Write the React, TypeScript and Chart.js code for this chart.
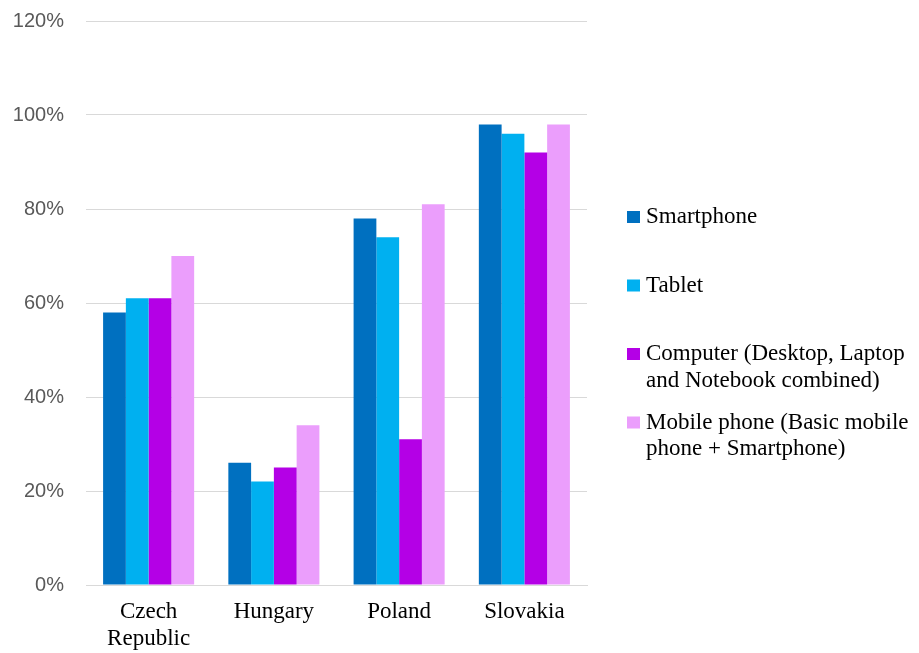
import React, { useEffect, useRef } from "react";
import { Chart, registerables } from "chart.js";

Chart.register(...registerables);

const categories: (string | string[])[] = [["Czech", "Republic"], "Hungary", "Poland", "Slovakia"];
const seriesNames: string[][] = [
  ["Smartphone"],
  ["Tablet"],
  ["Computer (Desktop, Laptop", "and Notebook combined)"],
  ["Mobile phone (Basic mobile", "phone + Smartphone)"],
];
const seriesColors = ["#0070C0", "#00B0F0", "#B400E6", "#EB9EFC"];
const smartphone = [58, 26, 78, 98];
const tablet = [61, 22, 74, 96];
const computer = [61, 25, 31, 92];
const mobilePhone = [70, 34, 81, 98];
const yTicks = [0, 20, 40, 60, 80, 100, 120];

const SERIF = "'Liberation Serif', 'Times New Roman', serif";

const legendPlugin = {
  id: "customLegend",
  afterDraw(chart: any) {
    const ctx = chart.ctx;
    const area = chart.chartArea;
    const boxX = area.right + 40;
    const textX = boxX + 19;
    let y = 217;
    ctx.save();
    ctx.font = `23px ${SERIF}`;
    ctx.textBaseline = "middle";
    ctx.textAlign = "left";
    seriesNames.forEach((lines, i) => {
      ctx.fillStyle = seriesColors[i];
      ctx.fillRect(boxX, y - 6, 13, 12);
      ctx.fillStyle = "#000";
      lines.forEach((ln, j) => {
        ctx.fillText(ln, textX, y + j * 26.5);
      });
      y += 68.5;
    });
    ctx.restore();
  },
};

export default function App() {
  const ref = useRef<HTMLCanvasElement | null>(null);
  useEffect(() => {
    if (!ref.current) return;
    const data = [smartphone, tablet, computer, mobilePhone];
    const chart = new Chart(ref.current, {
      type: "bar",
      data: {
        labels: categories,
        datasets: data.map((d, i) => ({
          label: seriesNames[i].join(" "),
          data: d,
          backgroundColor: seriesColors[i],
          borderWidth: 0,
          barPercentage: 1,
          categoryPercentage: 0.727,
        })),
      },
      options: {
        responsive: false,
        animation: false,
        layout: { padding: { left: 0, top: 21, right: 332, bottom: 0 } },
        plugins: {
          legend: { display: false },
          tooltip: { enabled: false },
        },
        scales: {
          x: {
            grid: { display: false, drawTicks: false },
            border: { display: true, color: "#d9d9d9", width: 1 },
            ticks: {
              color: "#000",
              font: { family: SERIF, size: 23, lineHeight: 1.15 },
              padding: 14,
              maxRotation: 0,
              autoSkip: false,
            },
            afterFit: (s: any) => {
              s.height = 68;
              s.paddingLeft = 0;
              s.paddingRight = 0;
              s.paddingTop = 0;
              s.paddingBottom = 0;
            },
          },
          y: {
            min: 0,
            max: 120,
            afterBuildTicks: (s: any) => {
              s.ticks = yTicks.map((v) => ({ value: v }));
            },
            grid: { color: "#d9d9d9", lineWidth: 1, drawTicks: false },
            border: { display: false },
            ticks: {
              color: "#595959",
              font: { family: "'Liberation Sans', Arial, sans-serif", size: 20 },
              padding: 22,
              callback: (v: any) => v + "%",
            },
            afterFit: (s: any) => {
              s.width = 86;
              s.paddingTop = 0;
              s.paddingBottom = 0;
              s.paddingLeft = 0;
              s.paddingRight = 0;
            },
          },
        },
      },
      plugins: [legendPlugin],
    });
    return () => chart.destroy();
  }, []);
  return (
    <div style={{ position: "absolute", left: 0, top: 0, width: 919, height: 653, background: "#fff" }}>
      <canvas ref={ref} width={919} height={653} />
    </div>
  );
}
